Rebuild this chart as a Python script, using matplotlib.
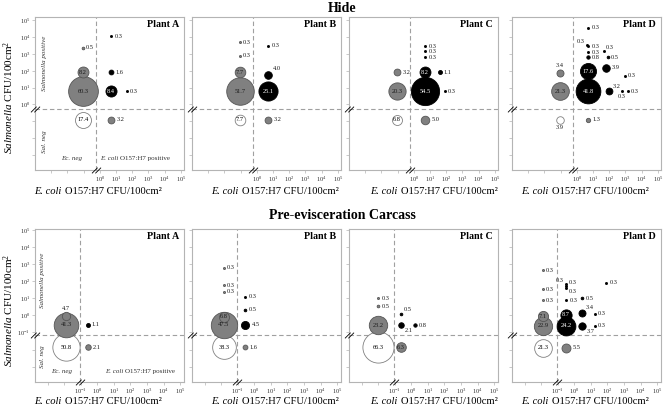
import matplotlib
matplotlib.use('Agg')
import matplotlib.pyplot as plt
import numpy as np
from matplotlib.path import Path
from matplotlib.offsetbox import TextArea, HPacker, AnchoredOffsetbox

plt.rcParams['font.family'] = 'Liberation Serif'
plt.rcParams['mathtext.fontset'] = 'custom'
plt.rcParams['mathtext.rm'] = 'Liberation Serif'
plt.rcParams['mathtext.it'] = 'Liberation Serif:italic'
plt.rcParams['mathtext.bf'] = 'Liberation Serif:bold'

# ---------------- data ----------------
row_titles = ['Hide', 'Pre-evisceration Carcass']
plants = ['Plant A', 'Plant B', 'Plant C', 'Plant D']
hide_tick_exp = [0, 1, 2, 3, 4, 5]
carc_tick_exp = [-1, 0, 1, 2, 3, 4, 5]

# Hide (x = log10 E. coli O157:H7, y = log10 Salmonella; negatives left/below dashed line)
hA_x = [-1.05, -1.05, -1.05, 0.72, 0.70, 0.70, 1.65, -1.05, 0.70]
hA_y = [0.77, 1.92, 3.37, 4.05, 1.92, 0.77, 0.77, -0.90, -0.90]
hA_pct = [60.3, 8.2, 0.5, 0.3, 1.6, 8.4, 0.3, 17.4, 3.2]

hB_x = [-1.05, -1.05, -1.05, -1.05, 0.70, 0.70, 0.70, -1.05, 0.70]
hB_y = [0.77, 1.92, 3.70, 2.90, 0.77, 1.78, 3.50, -0.90, -0.90]
hB_pct = [51.7, 7.7, 0.3, 0.3, 25.1, 4.0, 0.3, 7.7, 3.2]

hC_x = [-1.05, -1.05, 0.70, 0.70, 1.60, 1.91, 0.70, 0.70, 0.70, -1.05, 0.70]
hC_y = [0.77, 1.92, 0.77, 1.92, 1.92, 0.77, 3.45, 3.15, 2.80, -0.90, -0.90]
hC_pct = [20.3, 3.2, 54.5, 8.2, 1.1, 0.3, 0.3, 0.3, 0.3, 6.8, 5.0]

hD_x = [-1.05, -1.05, 0.70, 0.70, 1.79, 1.97, 2.96, 2.77, 3.15, 1.91, 0.70, 0.70, 0.70, 0.65, 1.66, 0.70, -1.05, 0.70]
hD_y = [0.77, 1.87, 0.77, 1.96, 2.17, 0.77, 1.70, 0.77, 0.77, 2.80, 2.80, 3.10, 3.45, 3.55, 3.20, 4.57, -0.90, -0.90]
hD_pct = [21.3, 3.4, 41.8, 17.6, 3.9, 3.2, 0.3, 0.3, 0.3, 0.5, 0.8, 0.3, 0.3, 0.3, 0.3, 0.3, 3.9, 1.3]

# Pre-evisceration carcass
cA_x = [-1.90, -1.90, -1.90, -0.60, -0.60]
cA_y = [-0.54, -0.04, -1.86, -0.54, -1.86]
cA_pct = [41.3, 4.7, 50.8, 1.1, 2.1]

cB_x = [-1.85, -1.85, -1.85, -0.55, -0.55, -0.55, -0.55, -1.85, -1.85, -1.85]
cB_y = [-0.54, -0.09, -1.86, -0.54, -1.86, 0.34, 1.08, 2.79, 1.77, 1.38]
cB_pct = [47.5, 6.8, 38.3, 4.5, 1.6, 0.5, 0.3, 0.3, 0.3, 0.3]

cC_x = [-2.00, -2.00, -0.65, -2.00, -2.00, -0.65, -0.65, 0.21]
cC_y = [-0.58, -1.86, -1.86, 0.99, 0.54, 0.11, -0.58, -0.58]
cC_pct = [23.2, 66.3, 6.3, 0.3, 0.5, 0.5, 2.1, 0.8]

cD_x = [-1.90, -1.90, -1.90, -0.50, -0.50, 0.45, 0.45, 1.25, 1.25, 1.92, 0.47, -0.50, -0.50, -0.50, -0.50, -1.90, -1.90, -1.90, -0.50]
cD_y = [-0.62, -0.05, -1.89, -0.62, 0.05, 0.14, -0.62, 0.11, -0.62, 1.91, 0.99, 0.89, 1.85, 1.72, 1.58, 2.65, 1.52, 0.89, -1.89]
cD_pct = [22.9, 7.1, 21.3, 24.2, 8.7, 3.4, 3.7, 0.3, 0.3, 0.3, 0.5, 0.3, 0.3, 0.3, 0.3, 0.3, 0.3, 0.3, 5.5]

# ---------------- label placement (style) ----------------
hA_lab = ['in', 'in', 'r', 'r', 'r', 'in', 'r', 'in', 'r']
hB_lab = ['in', 'in', 'r', 'r', 'in', 'ur', 'r', 'in', 'r']
hC_lab = ['in', 'r', 'in', 'in', 'r', 'r', 'r', 'r', 'r', 'in', 'r']
hD_lab = ['in', 'u', 'in', 'in', 'r', 'ur', 'r', 'd', 'r', 'r', 'r', 'r', 'r', 'ul', 'ur', 'r', 'd', 'r']
cA_lab = ['in', 'u', 'in', 'r', 'r']
cB_lab = ['in', 'in', 'in', 'r', 'r', 'r', 'r', 'r', 'r', 'r']
cC_lab = ['in', 'in', 'in', 'r', 'r', 'ur', 'dr', 'r']
cD_lab = ['in', 'in', 'in', 'in', 'in', 'ur', 'dr', 'r', 'r', 'r', 'r', 'r', 'ul', 'ur', 'dr', 'r', 'r', 'r', 'r']

# ---------------- figure ----------------
W, H = 664, 407
fig = plt.figure(figsize=(W / 100, H / 100), dpi=100)

lefts = [35, 192, 349, 512]
pw = 149
row_geom = [
    dict(top=17, xlim=(-4.0, 5.2), ylim=(-3.9, 5.2), dx=-0.25, dy=-0.25, ticks=hide_tick_exp),
    dict(top=229, xlim=(-3.78, 5.24), ylim=(-3.9, 5.06), dx=-1.05, dy=-1.17, ticks=carc_tick_exp),
]
ph = 153

panels = [
    [(hA_x, hA_y, hA_pct, hA_lab), (hB_x, hB_y, hB_pct, hB_lab),
     (hC_x, hC_y, hC_pct, hC_lab), (hD_x, hD_y, hD_pct, hD_lab)],
    [(cA_x, cA_y, cA_pct, cA_lab), (cB_x, cB_y, cB_pct, cB_lab),
     (cC_x, cC_y, cC_pct, cC_lab), (cD_x, cD_y, cD_pct, cD_lab)],
]

GRAY = '#808080'
SPINE = '#b4b4b4'
DASH = '#a0a0a0'
LFS = 4.6
S_PER_PCT = 7.6

brk_path = Path([(-1.6, -1.0), (0.4, 1.0), (-0.4, -1.0), (1.6, 1.0)],
                [Path.MOVETO, Path.LINETO, Path.MOVETO, Path.LINETO])

xlab_cx = [98, 275, 434, 585]
xlab_y = [192, 402]
ylab_cy = [97, 310]
title_y = [8, 216]


def px2fig(x, y):
    return x / W, 1 - y / H


def mixed_label(anchor, transform, parts, fs, color='black', sep=0.25):
    kids = [TextArea(t, textprops=dict(fontsize=fs, style=st, color=color)) for t, st in parts]
    box = HPacker(children=kids, align='baseline', pad=0, sep=fs * sep)
    anc = AnchoredOffsetbox(loc='center', child=box, pad=0, borderpad=0, frameon=False,
                            bbox_to_anchor=anchor, bbox_transform=transform)
    return anc


for r in range(2):
    g = row_geom[r]
    for c in range(4):
        x0 = lefts[c]
        ax = fig.add_axes([x0 / W, 1 - (g['top'] + ph) / H, pw / W, ph / H])
        ax.set_xlim(*g['xlim'])
        ax.set_ylim(*g['ylim'])
        for sp in ax.spines.values():
            sp.set_color(SPINE)
            sp.set_linewidth(0.8)
        ax.axvline(g['dx'], color=DASH, lw=0.8, ls=(0, (4, 2.5)), zorder=1)
        ax.axhline(g['dy'], color=DASH, lw=0.8, ls=(0, (4, 2.5)), zorder=1)

        allt = list(range(-3, 6))
        ax.set_xticks(allt)
        ax.set_xticklabels([r'$10^{%d}$' % t if t in g['ticks'] else '' for t in allt])
        ax.set_yticks(allt)
        if c == 0:
            ax.set_yticklabels([r'$10^{%d}$' % t if t in g['ticks'] else '' for t in allt])
        else:
            ax.set_yticklabels([])
        ax.tick_params(length=2, width=0.5, color=SPINE, labelsize=4.6, pad=1.5,
                       labelcolor='#333333')

        # break marks
        ax.plot([g['xlim'][0]], [g['dy']], marker=brk_path, ms=6.5, mec='black', mew=0.6,
                clip_on=False, zorder=6)
        ax.plot([g['dx']], [g['ylim'][0]], marker=brk_path, ms=6.5, mec='black', mew=0.6,
                clip_on=False, zorder=6)

        xs, ys, ps, labs = panels[r][c]
        order = np.argsort(ps)[::-1]
        for k, i in enumerate(order):
            x, y, p, lab = xs[i], ys[i], ps[i], labs[i]
            xneg = x < g['dx']
            yneg = y < g['dy']
            if xneg and yneg:
                fc, ec, tc, z = 'white', GRAY, 'black', 2
            elif xneg or yneg:
                fc, ec, tc, z = GRAY, '#555555', '#1a1a1a', 3 + k
            else:
                fc, ec, tc, z = 'black', 'black', 'white', 3 + k
            s = S_PER_PCT * p
            ax.scatter([x], [y], s=s, c=fc, edgecolors=ec, linewidths=0.6, zorder=z)
            rad = np.sqrt(s) / 2
            txt = '%.1f' % p
            if lab == 'in':
                ax.text(x, y, txt, ha='center', va='center', fontsize=LFS, color=tc, zorder=50)
            else:
                d = rad + 1.5
                dd = rad * 0.75 + 1.2
                off = {'r': ((d, 0), 'left', 'center'),
                       'u': ((0, d - 0.5), 'center', 'bottom'),
                       'd': ((0, -d + 0.5), 'center', 'top'),
                       'ur': ((dd, dd - 1), 'left', 'bottom'),
                       'dr': ((dd, -dd + 1), 'left', 'top'),
                       'ul': ((-dd, dd - 1), 'right', 'bottom')}[lab]
                ax.annotate(txt, (x, y), xytext=off[0], textcoords='offset points',
                            ha=off[1], va=off[2], fontsize=LFS, color='#1a1a1a', zorder=50)

        ax.text(0.965, 0.95, plants[c], transform=ax.transAxes, ha='right', va='center',
                fontsize=7.2, fontweight='bold')

        if c == 0:
            if r == 0:
                sx, sy_pos, sy_neg, ecx, ecy, epx = 0.067, 0.70, 0.183, 0.246, 0.078, 0.671
            else:
                sx, sy_pos, sy_neg, ecx, ecy, epx = 0.047, 0.667, 0.165, 0.179, 0.067, 0.705
            ax.text(sx, sy_pos, 'Salmonella positive', transform=ax.transAxes, rotation=90,
                    ha='center', va='center', fontsize=5, style='italic', color='#333333')
            ax.text(sx, sy_neg, 'Sal. neg', transform=ax.transAxes, rotation=90,
                    ha='center', va='center', fontsize=5, style='italic', color='#333333')
            ax.text(ecx, ecy, 'Ec. neg', transform=ax.transAxes, ha='center', va='center',
                    fontsize=5, style='italic', color='#333333')
            ax.add_artist(mixed_label((epx, ecy), ax.transAxes,
                                      [('E. coli', 'italic'), ('O157:H7 positive', 'normal')],
                                      5, '#333333'))

        fx, fy = px2fig(xlab_cx[c], xlab_y[r])
        fig.add_artist(mixed_label((fx, fy), fig.transFigure,
                                   [('E. coli', 'italic'), ('O157:H7 CFU/100cm²', 'normal')],
                                   7.6))

    fx, fy = px2fig(9, ylab_cy[r])
    fig.text(fx, fy, r'$\mathit{Salmonella}$ CFU/100cm$^2$', rotation=90, ha='center',
             va='center', fontsize=8.0)
    fx, fy = px2fig(342, title_y[r])
    fig.text(fx, fy, row_titles[r], ha='center', va='center', fontsize=10, fontweight='bold')

fig.savefig('out.png', dpi=100)
